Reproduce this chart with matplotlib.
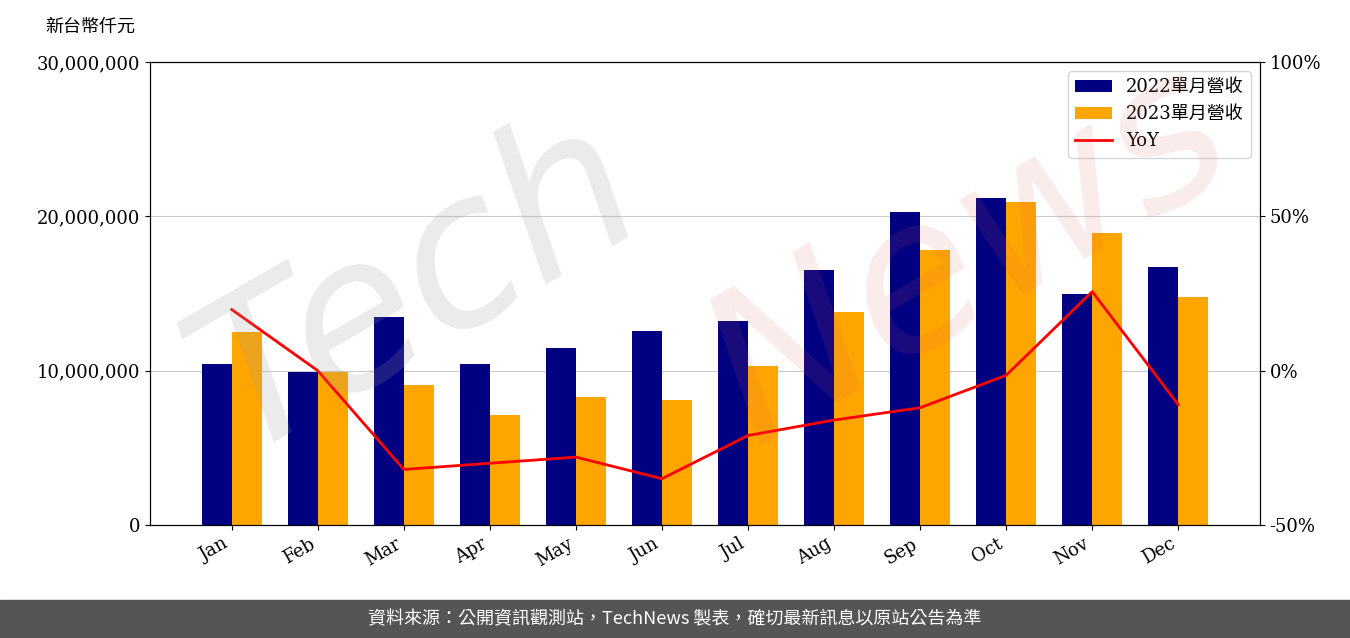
import numpy as np
import matplotlib
matplotlib.use('Agg')
import matplotlib.pyplot as plt
from matplotlib.ticker import FuncFormatter

plt.rcParams['font.family'] = ['DejaVu Serif', 'Noto Sans CJK TC']

months = ['Jan', 'Feb', 'Mar', 'Apr', 'May', 'Jun', 'Jul', 'Aug', 'Sep', 'Oct', 'Nov', 'Dec']
rev_2022 = [10430000, 9900000, 13500000, 10400000, 11500000, 12600000,
            13200000, 16500000, 20300000, 21200000, 15000000, 16700000]
rev_2023 = [12500000, 9900000, 9100000, 7100000, 8300000, 8100000,
            10300000, 13800000, 17800000, 20900000, 18900000, 14800000]
yoy = [19.8, 0.0, -32.0, -30.0, -28.0, -35.0, -21.0, -16.0, -12.0, -1.5, 25.6, -11.0]

fig = plt.figure(figsize=(13.5, 6.38), dpi=100)
ax = fig.add_axes([150/1350, 1-525/638, 1110/1350, 463/638])
x = np.arange(len(months))
w = 0.35
b1 = ax.bar(x - w/2, rev_2022, w, color='#000080', label='2022單月營收')
b2 = ax.bar(x + w/2, rev_2023, w, color='#FFA500', label='2023單月營收')
ax.set_ylim(0, 30000000)
ax.set_yticks([0, 10000000, 20000000, 30000000])
ax.yaxis.set_major_formatter(FuncFormatter(lambda v, p: f'{int(v):,}'))
ax.grid(axis='y', color='#cccccc')
ax.set_axisbelow(True)
ax.set_xticks(x)
ax.set_xticklabels(months, rotation=30, ha='right')
ax.set_xlim(-0.95, 11.95)
ax.tick_params(labelsize=13)

ax2 = ax.twinx()
l, = ax2.plot(x, yoy, color='red', lw=2, label='YoY')
ax2.set_ylim(-50, 100)
ax2.set_yticks([-50, 0, 50, 100])
ax2.yaxis.set_major_formatter(FuncFormatter(lambda v, p: f'{int(v)}%'))
ax2.tick_params(labelsize=13)

ax.legend([b1, b2, l], ['2022單月營收', '2023單月營收', 'YoY'], loc='upper right',
          prop={'family': ['DejaVu Serif', 'Noto Sans CJK TC'], 'size': 13})

fig.text(45/1350, 1-27/638, '新台幣仟元', fontsize=13, family=['Noto Sans CJK TC'], va='center')

# watermark
fig.text(0.5, 0.55, 'Tech', fontsize=150, color='#999999', alpha=0.2, rotation=30,
         ha='right', va='center', family='DejaVu Sans', style='italic')
fig.text(0.5, 0.6, 'News', fontsize=150, color='#e06060', alpha=0.12, rotation=30,
         ha='left', va='center', family='DejaVu Sans', style='italic')

fig.patches.append(plt.Rectangle((0, 0), 1, 38/638, transform=fig.transFigure,
                                 color='#555555', zorder=0))
fig.text(0.5, 19/638, '資料來源：公開資訊觀測站，TechNews 製表，確切最新訊息以原站公告為準',
         color='white', fontsize=13, ha='center', va='center', family=['Noto Sans CJK TC'])

fig.savefig('out.png', dpi=100)
